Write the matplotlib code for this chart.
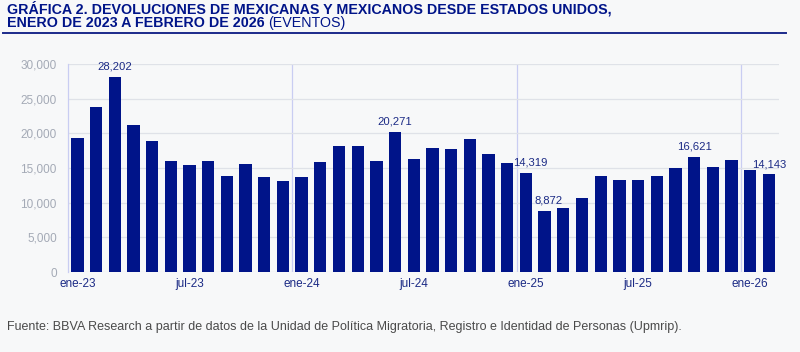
import numpy as np
import matplotlib
matplotlib.use("Agg")
import matplotlib.pyplot as plt

plt.rcParams['font.family'] = ['Liberation Sans', 'DejaVu Sans']

# Datos (eventos mensuales, ene-23 a feb-26)
meses = ["ene-23", "feb-23", "mar-23", "abr-23", "may-23", "jun-23", "jul-23", "ago-23",
         "sep-23", "oct-23", "nov-23", "dic-23",
         "ene-24", "feb-24", "mar-24", "abr-24", "may-24", "jun-24", "jul-24", "ago-24",
         "sep-24", "oct-24", "nov-24", "dic-24",
         "ene-25", "feb-25", "mar-25", "abr-25", "may-25", "jun-25", "jul-25", "ago-25",
         "sep-25", "oct-25", "nov-25", "dic-25",
         "ene-26", "feb-26"]
eventos = [19300, 23850, 28202, 21250, 18850, 16050, 15400, 15950,
           13800, 15550, 13700, 13150,
           13700, 15850, 18150, 18250, 16000, 20271, 16300, 17900,
           17800, 19150, 17050, 15750,
           14319, 8872, 9300, 10700, 13850, 13250, 13250, 13800,
           15000, 16621, 15200, 16100,
           14700, 14143]
etiquetas = {"mar-23": "28,202", "jun-24": "20,271", "ene-25": "14,319",
             "feb-25": "8,872", "oct-25": "16,621", "feb-26": "14,143"}
# etiquetas corridas un poco a la derecha para no pisar la barra vecina
corridas = ["ene-25", "feb-25"]
ticks_x = ["ene-23", "jul-23", "ene-24", "jul-24", "ene-25", "jul-25", "ene-26"]

azul = "#001489"
azul_txt = "#1b2a85"
fondo = "#f7f8f9"

fig = plt.figure(figsize=(8, 3.52), dpi=100, facecolor=fondo)
ax = fig.add_axes([0.085, 0.227, 0.889, 0.591], facecolor=fondo)

x = np.arange(len(meses))
ax.bar(x, eventos, width=0.66, color=azul, zorder=3)

for i, m in enumerate(meses):
    if m in etiquetas:
        dx = 3 if m in corridas else 0
        ax.annotate(etiquetas[m], (x[i], eventos[i]), xytext=(dx, 3.5),
                    textcoords="offset points", ha="center", va="bottom",
                    fontsize=8.1, color=azul_txt, zorder=4)

ax.set_ylim(0, 30000)
ax.set_xlim(-0.5, 37.55)
ax.set_yticks(np.arange(0, 30001, 5000))
ax.set_yticklabels([f"{v:,}" for v in range(0, 30001, 5000)])
ax.yaxis.grid(True, color="#dfe2e8", lw=0.9, zorder=0)

# separadores de año
for i, m in enumerate(meses):
    if m.startswith("ene") and i > 0:
        ax.axvline(i - 0.5, color="#c9cdf2", lw=0.9, zorder=1)

ax.set_xticks([meses.index(t) for t in ticks_x])
ax.set_xticklabels(ticks_x)
ax.tick_params(axis="x", length=0, labelsize=8.5, labelcolor=azul_txt, pad=4)
ax.tick_params(axis="y", length=0, labelsize=8.5, labelcolor="#a4aab6", pad=8)

for s in ["top", "right", "bottom"]:
    ax.spines[s].set_visible(False)
ax.spines["left"].set_color("#c9cdf2")
ax.spines["left"].set_linewidth(0.9)

# Titulo
fig.text(0.009, 1 - 13.5 / 352, "GRÁFICA 2. DEVOLUCIONES DE MEXICANAS Y MEXICANOS DESDE ESTADOS UNIDOS,",
         fontsize=10.3, fontweight="bold", color=azul, va="baseline", ha="left")
t2 = fig.text(0.009, 1 - 27.3 / 352, "ENERO DE 2023 A FEBRERO DE 2026", fontsize=10.3,
              fontweight="bold", color=azul, va="baseline", ha="left")
fig.canvas.draw()
bb = t2.get_window_extent()
fig.text(bb.x1 / 800 + 0.004, 1 - 27.3 / 352, "(EVENTOS)", fontsize=10.3, color=azul,
         va="baseline", ha="left")
fig.add_artist(plt.Line2D([0.004, 0.982], [1 - 32.7 / 352] * 2, color="#1c2a8c", lw=1.4))

fig.text(0.009, 0.072, "Fuente: BBVA Research a partir de datos de la Unidad de Política Migratoria, "
         "Registro e Identidad de Personas (Upmrip).", fontsize=9, color="#4a4a4a",
         va="center", ha="left")

fig.savefig("out.png", dpi=100, facecolor=fondo)
